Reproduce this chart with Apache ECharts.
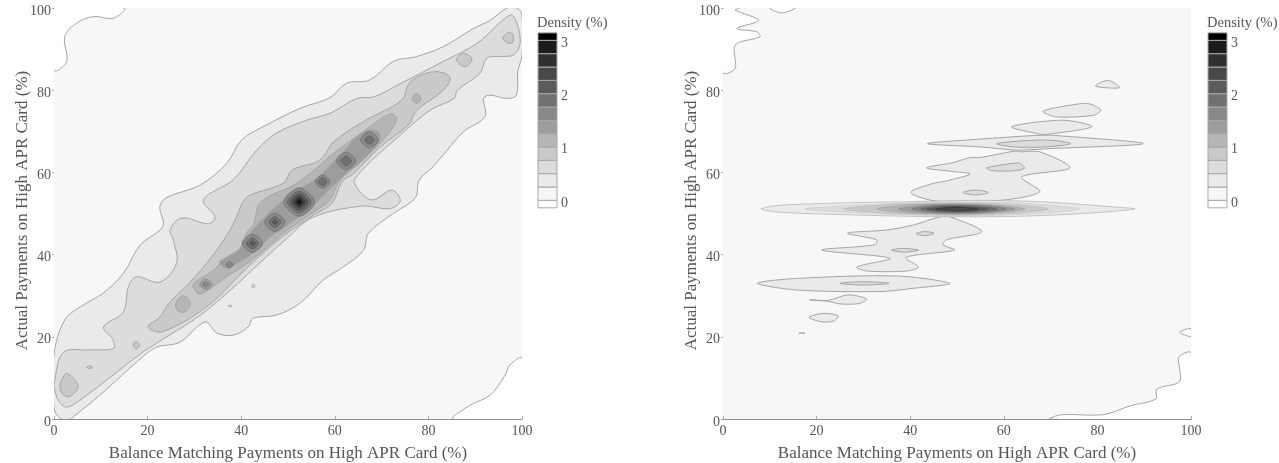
<!DOCTYPE html>
<html><head><meta charset="utf-8">
<style>html,body{margin:0;padding:0;background:#fff}#c{width:1279px;height:463px}</style>
<script src="https://cdn.jsdelivr.net/npm/echarts@6/dist/echarts.min.js"></script>
</head><body><div id="c"></div>
<script>
// ---------- labels & scales ----------
const xTitle = 'Balance Matching Payments on High APR Card (%)';
const yTitle = 'Actual Payments on High APR Card (%)';
const barTitle = 'Density (%)';
const bandEdges = [-0.09,0.05,0.30,0.55,0.80,1.05,1.30,1.55,1.80,2.05,2.30,2.55,2.80,3.05,3.19];
const bandColors = ['#ffffff','#f6f6f6','#eaeaea','#dcdcdc','#c9c9c9','#b5b5b5','#9d9d9d','#888888','#717171','#5b5b5b','#484848','#303030','#1c1c1c','#000000'];

// ---------- left panel: contour outlines read in data units ----------
const L_cornerTL = [[0,100],[0,84.9],[2.7,86.9],[2.3,93],[4.8,96.3],[8.4,97.9],[12.7,97.5],[15,100]];
const L_cornerBR = [[85.3,0],[89,3.4],[93.2,5.8],[96.4,10.7],[97.4,13.1],[100,14.8],[100,0]];
const L_A = [[0,15.6],[2.3,24.1],[6.2,27.7],[10.5,30.6],[14.8,35.4],[18.4,42.3],[22.7,46],[23.4,47.6],[22.6,51.7],[24.1,53.9],[31.2,56.9],[36.9,62.2],[40.1,67.9],[45.5,71.6],[52.6,75.6],[59,78.2],[62.5,81.7],[67.5,82.5],[72.5,87],[77.5,88.2],[83.2,90.6],[89.6,95],[93.2,97],[96.8,100],[98.9,100],[100,98.3],[100,88.6],[99.1,84.5],[98.8,78.8],[96.7,78],[93.2,78.8],[91.8,78],[92.1,73.6],[87.5,69.9],[84,65.4],[81,61.4],[78,58.1],[77.2,53.8],[72.5,50],[67.2,45.2],[66.1,41],[61.8,37],[57.5,33.8],[52.6,28.2],[47.6,25.3],[42.5,24.5],[41.5,22.4],[38.3,20.4],[34.8,20.9],[32.3,23.6],[26.9,18.7],[22,17.5],[19.1,15.3],[9.8,5.8],[4.1,0.5],[3.7,0],[1.5,0],[0,2.7]];
const L_B = [[0,8.7],[2,16.2],[7.7,16.8],[12.7,17.2],[12.5,19.5],[10.6,22.4],[14.8,26],[15.9,32.2],[17.6,34.6],[22.6,33.3],[26.2,37.9],[25.5,43.5],[24.8,46],[27.3,48.9],[33,47.5],[34.4,49.2],[31.9,53.3],[38.3,58.2],[43.3,65.4],[47.6,69.6],[54,72.7],[59,74.4],[64.7,78],[68.4,78.4],[74,81.6],[83.2,87],[90.4,91.4],[97.5,98.3],[98.9,96.3],[99.6,91.4],[98.2,88.6],[95.4,88.2],[92.5,87.8],[91,84.1],[86.2,80],[85.5,78],[80.5,75.2],[74.8,69.9],[64.3,58.4],[65.4,55.3],[68.1,53.3],[72.2,55.7],[74,53.1],[71.8,51.2],[65.8,51.8],[55.4,49.1],[49.8,44],[32.7,26.5],[22,18.5],[18.4,15.8],[6.2,5.1],[2.7,2.9],[0.9,4.6],[0,7.9]];
const L_C = [[20.1,22.4],[22.6,24.8],[24.8,28.5],[29.1,33.3],[34,39.9],[37.6,46],[39.3,50],[40.4,52.9],[42,54.5],[49,57.4],[50.9,60.6],[56.8,63],[59.7,67.4],[66,72.3],[74.3,77.6],[76.1,82],[81.1,84.5],[84.6,83.2],[83.2,80],[77.5,75.1],[75.7,71.5],[69.7,66.2],[64,59.7],[61.5,57.7],[59.4,52.5],[55.4,49.6],[48.9,44.4],[41.9,37.5],[32.7,27.4],[23.1,21.2]];
const L_D = [[29.7,32.5],[31.4,34.3],[33,35.3],[34.8,37],[36.2,38.9],[39.7,41.5],[41.2,45.4],[42.6,47.2],[43.7,52],[45.8,54.1],[51.2,56.9],[56.9,61.8],[59.7,64.6],[66.1,69.9],[71.8,74.2],[73.2,73.1],[71.5,69.5],[66.1,63],[61.1,58.1],[59,53.3],[56.1,50.8],[49,45.2],[41.9,38.3],[37.6,35.2],[31.2,30.4]];
const L_E = [[35.4,38.2],[37,39.3],[39.9,41.5],[41.9,45.2],[45.5,49.6],[49,53.3],[51.9,55.7],[56.1,58.5],[61.1,64.2],[66.1,69.9],[69.3,69.9],[69.3,67],[62.6,59.8],[59,56.1],[55.4,52],[49,46.4],[46.2,44.3],[41.9,39.8],[39.2,38],[37,36.6]];
const L_blob3 = [[1.3,8.3],[2.7,11.1],[5.2,7.9],[3.1,5.4],[1.7,6.3]];
const L_blob17 = [[16.9,18],[17.5,18.8],[18.3,18],[17.6,17]];
const L_blob27 = [[26,28],[27.5,30],[29,28.8],[29,27.4],[27.8,26],[26.5,26.3]];
const L_blob77 = [[76.5,77.9],[77.5,79.2],[78.4,77.9],[77.5,76.8]];
const L_blob87 = [[86,87.4],[87.4,89],[89.3,87.6],[87.8,85.7]];
const L_blob97 = [[95.9,92.8],[97.3,94.1],[98.1,93.4],[98,91.6],[96.8,91.6]];
const L_dot7 = [[7,12.6],[7.5,12.9],[8.2,12.6],[7.5,12.3]];
const L_dot37 = [[37.2,27.5],[37.6,27.7],[38,27.5],[37.6,27.3]];
const L_dot42 = [[42.3,32.3],[42.6,32.8],[42.9,32.3],[42.6,31.9]];
// ridge peaks, outermost ring first
const L_p32a = [[31.5,33.5],[33.2,33.6],[33.3,32],[31.7,31.9]];
const L_p32b = [[32,33.1],[32.8,33.1],[32.8,32.4],[32,32.4]];
const L_p37a = [[37,38],[38,38],[38,37.1],[37,37.1]];
const L_p42a = [[41,44.1],[43.8,44.1],[43.8,41.4],[41,41.4]];
const L_p42b = [[41.6,43.5],[43.2,43.5],[43.2,41.9],[41.6,41.9]];
const L_p42c = [[42.1,43],[42.8,43],[42.8,42.4],[42.1,42.4]];
const L_p47a = [[45.8,49.2],[48.6,49.2],[48.6,46.5],[45.8,46.5]];
const L_p47b = [[46.4,48.7],[48,48.7],[48,47.1],[46.4,47.1]];
const L_p47c = [[46.9,48.2],[47.5,48.2],[47.5,47.6],[46.9,47.6]];
const L_p52a = [[50.3,54.9],[54.5,54.9],[54.5,50.7],[50.3,50.7]];
const L_p52b = [[50.8,54.4],[54,54.4],[54,51.2],[50.8,51.2]];
const L_p52c = [[51.2,54],[53.6,54],[53.6,51.6],[51.2,51.6]];
const L_p52d = [[51.6,53.6],[53.2,53.6],[53.2,52],[51.6,52]];
const L_p52e = [[51.9,53.3],[52.9,53.3],[52.9,52.3],[51.9,52.3]];
const L_p52f = [[52.2,53],[52.6,53],[52.6,52.6],[52.2,52.6]];
const L_p57a = [[56.4,58.7],[58.4,58.7],[58.4,56.7],[56.4,56.7]];
const L_p57b = [[56.8,58.3],[58,58.3],[58,57.1],[56.8,57.1]];
const L_p62a = [[61.1,64.1],[63.7,64.1],[63.7,61.5],[61.1,61.5]];
const L_p62b = [[61.7,63.5],[63.1,63.5],[63.1,62.1],[61.7,62.1]];
const L_p67a = [[66.2,69.1],[68.6,69.1],[68.6,66.7],[66.2,66.7]];
const L_p67b = [[66.8,68.5],[68,68.5],[68,67.3],[66.8,67.3]];

const leftBands = [
  [0,L_cornerTL],[0,L_cornerBR],[2,L_A],[3,L_B],[4,L_C],[5,L_D],[6,L_E],
  [4,L_blob3],[4,L_blob17],[5,L_blob27],[5,L_blob77],[4,L_blob87],[4,L_blob97],
  [4,L_dot7],[3,L_dot37],[3,L_dot42]
];
const leftPeaks = [
  [6,L_p32a],[7,L_p32b],[7,L_p37a],
  [7,L_p42a],[8,L_p42b],[9,L_p42c],
  [7,L_p47a],[8,L_p47b],[9,L_p47c],
  [7,L_p52a],[8,L_p52b],[9,L_p52c],[10,L_p52d],[11,L_p52e],[12,L_p52f],
  [7,L_p57a],[8,L_p57b],[7,L_p62a],[8,L_p62b],[7,L_p67a],[8,L_p67b]
];

// ---------- right panel ----------
const R_cornerTL = [[0,100],[0,84.2],[2.6,85.3],[2.6,91],[7.9,93],[7.2,94.2],[2.9,95],[7.6,97],[2.6,99.5],[3.5,100]];
const R_cornerT = [[10,100],[12.5,98.8],[15.4,100]];
const R_cornerBR = [[69.8,0],[72.3,1.05],[81.3,1.05],[87,3.2],[92.5,4.9],[92.7,7.3],[97.6,9.2],[97.4,15],[100,16.1],[100,0]];
const R_edge21 = [[100,22],[97.6,21.1],[100,20.1]];
const R_dash17 = [[16.2,20.9],[17,21],[17.5,20.9],[17,20.8]];
const R_b25 = [[18.5,24.9],[21.4,25.7],[24.6,25.1],[23.8,23.9],[21.4,23.6],[18.5,24.5]];
const R_b29 = [[18.5,29],[22.6,28.9],[26.7,30.2],[30.7,29.2],[29.1,28.1],[25,28],[22.6,28.6]];
const R_b33 = [[7.3,33],[15.7,34.2],[37.1,34.8],[48.5,33],[40.7,31.8],[33.5,31],[15.7,31.4]];
const R_lower = [[46.4,49.2],[40.7,47.2],[35,46],[26.6,45.2],[32.8,43.6],[32.5,42.4],[21.1,41.1],[35.7,39.1],[28.6,37],[30.7,36],[39.3,36],[41.8,37],[39,39.3],[49.5,41.1],[47,42.4],[47.8,43.6],[55.3,45.6],[48.5,49.2]];
const R_mid = [[40.1,55.1],[44.5,57.2],[47.6,57.9],[52.8,59.6],[48.5,60.3],[43.5,61.1],[49.2,62.4],[52.8,63.6],[54.9,63.6],[62.4,65.2],[63.6,65],[67.7,65],[74.1,61.1],[63.8,58.9],[67.7,55.3],[59.2,53.2],[45.7,53]];
const R_top67 = [[43.7,67],[54.9,68.1],[67,69],[70.8,69],[89.8,67],[70.2,65.8],[63.6,65.4],[62.4,65.4],[54.9,66.2]];
const R_top71 = [[61.7,71.1],[72.7,72.7],[78.8,71.1],[68.8,69.2],[67.2,69.4]];
const R_top75 = [[68.4,74.9],[77,76.8],[79.1,76.4],[80.7,75.1],[79.1,73.9],[71.3,73.5]];
const R_top81 = [[79.6,81],[82.3,82.4],[84.7,80.6]];
const R_in67 = [[58.5,67],[65.6,67.8],[70.6,67.8],[74.3,67],[69.1,66.2],[62,66.2]];
const R_in61 = [[56.3,61.1],[62,62.2],[63.4,62.2],[64.4,61],[62,60.4],[57.7,60.4]];
const R_in55 = [[51.3,55.1],[54,55.7],[56.7,55.1],[54,54.5]];
const R_in45 = [[41.3,45.1],[43,45.6],[45.1,45.2],[43,44.6]];
const R_in41 = [[36,41.1],[38.5,41.5],[41.8,41.1],[38.5,40.6]];
const R_in33 = [[25,33],[30,33.4],[35.5,33],[30,32.6]];
// long narrow ridge at about 51 %, outermost contour first
const R_r0 = [[8.1,51.1],[12.2,52],[26.4,52.6],[40.7,52.9],[54.9,53.2],[69.1,52.8],[83.4,51.6],[88,51.1],[79.8,50.2],[65.6,49.4],[54.9,49.2],[40.7,49.3],[26.4,49.7],[12.2,50.3]];
const R_r1 = [[17.5,51.1],[30,52.1],[42,52.6],[50,52.8],[62,52.6],[70,52],[76.3,51.1],[70,50.2],[62,49.7],[50,49.4],[42,49.6],[30,50.1]];
const R_r2 = [[25.8,51.1],[36,52.2],[44,52.5],[50,52.6],[58,52.4],[64,52],[69.5,51.1],[64,50.2],[58,49.8],[50,49.6],[44,49.7],[36,50]];
const R_r3 = [[32.9,51.1],[40,52.1],[46,52.3],[50,52.4],[56,52.2],[60,51.9],[64.5,51.1],[60,50.3],[56,50],[50,49.8],[46,49.9],[40,50.1]];
const R_r4 = [[37.5,51.1],[43,52],[50,52.2],[56,52],[62.4,51.1],[56,50.2],[50,50],[43,50.2]];
const R_r5 = [[40.4,51.1],[45,51.9],[50,52],[55,51.9],[60.6,51.1],[55,50.3],[50,50.2],[45,50.3]];
const R_r6 = [[42.2,51.1],[46,51.7],[50,51.85],[54,51.7],[58.5,51.1],[54,50.5],[50,50.35],[46,50.5]];
const R_r7 = [[43.6,51.1],[47,51.55],[50,51.7],[53,51.55],[56.7,51.1],[53,50.65],[50,50.5],[47,50.65]];
const R_r8 = [[45.5,51.1],[50,51.5],[54.5,51.1],[50,50.7]];

const rightBands = [
  [0,R_cornerTL],[0,R_cornerT],[0,R_cornerBR],[0,R_edge21],[2,R_dash17],
  [2,R_b25],[2,R_b29],[2,R_b33],[2,R_lower],[2,R_mid],[2,R_top67],[2,R_top71],[2,R_top75],[2,R_top81],
  [3,R_in67],[3,R_in61],[3,R_in55],[3,R_in45],[3,R_in41],[3,R_in33]
];
const rightRidge = [[2,R_r0],[3,R_r1],[4,R_r2],[5,R_r3],[6,R_r4],[7,R_r5],[8,R_r6],[9,R_r7],[10,R_r8]];

// ---------- chart ----------
const ink = '#555555', line = '#a4a4a4', serif = '"Liberation Serif", serif';
const chart = echarts.init(document.getElementById('c'), null, {renderer:'canvas'});

function contourSeries(shapes, idx, smooth, strokeOf, width){
  return {
    type:'custom', xAxisIndex:idx, yAxisIndex:idx, clip:true, silent:true, animation:false,
    data: shapes.map(function(s,i){return [i];}),
    renderItem:function(params, api){
      const s = shapes[api.value(0)];
      return {type:'polygon', shape:{points:s[1].map(function(p){return api.coord(p);}), smooth:smooth},
        style:{fill:bandColors[s[0]], stroke:strokeOf(s[0]), lineWidth:width}};
    }
  };
}
function plainLine(){return line;}
function stepDarker(level){return level<3 ? line : bandColors[Math.min(level+1,13)];}
function barSeries(idx){
  return {
    type:'custom', xAxisIndex:idx, yAxisIndex:idx, clip:false, silent:true, animation:false,
    data: bandColors.map(function(c,i){return [i];}),
    renderItem:function(params, api){
      const i = api.value(0);
      const a = api.coord([0,bandEdges[i+1]]), b = api.coord([1,bandEdges[i]]);
      return {type:'rect', shape:{x:a[0],y:a[1],width:b[0]-a[0],height:b[1]-a[1]},
        style:{fill:bandColors[i], stroke:'#a8a8a8', lineWidth:1}};
    }
  };
}
function plotX(i){return {type:'value',gridIndex:i,min:0,max:100,interval:20,
  name:xTitle,nameLocation:'middle',nameGap:26,nameTextStyle:{color:ink,fontFamily:serif,fontSize:17},
  axisLine:{show:true,lineStyle:{color:'#8c8c8c',width:1}},axisTick:{show:true,inside:true,length:3,lineStyle:{color:'#aaa'}},
  splitLine:{show:false},axisLabel:{color:ink,fontFamily:serif,fontSize:14,margin:5,showMinLabel:true,showMaxLabel:true}};}
function plotY(i){return {type:'value',gridIndex:i,min:0,max:100,interval:20,
  name:yTitle,nameLocation:'middle',nameGap:23,nameMoveOverlap:false,nameTextStyle:{color:ink,fontFamily:serif,fontSize:17,padding:[0,0,0,6]},
  axisLine:{show:false},axisTick:{show:true,length:2,lineStyle:{color:'#aaa'}},
  splitLine:{show:false},axisLabel:{color:ink,fontFamily:serif,fontSize:14,margin:3,verticalAlign:'top',lineHeight:6,showMinLabel:true,showMaxLabel:true}};}
function barX(i){return {type:'value',gridIndex:i,min:0,max:1,show:false};}
function barY(i){return {type:'value',gridIndex:i,min:0,max:3,interval:1,position:'right',
  axisLine:{show:false},axisTick:{show:true,length:3,lineStyle:{color:'#aaa'}},splitLine:{show:false},
  axisLabel:{color:ink,fontFamily:serif,fontSize:14,margin:4}};}

chart.setOption({
  animation:false, backgroundColor:'#ffffff',
  title:[
    {text:barTitle,left:537,top:16,padding:0,textStyle:{color:ink,fontFamily:serif,fontSize:14.5,fontWeight:'normal'}},
    {text:barTitle,left:1207,top:16,padding:0,textStyle:{color:ink,fontFamily:serif,fontSize:14.5,fontWeight:'normal'}}
  ],
  grid:[
    {left:54,top:8,width:468,height:411,show:true,backgroundColor:'#f7f7f7',borderWidth:0,outerBoundsMode:'none'},
    {left:723,top:8,width:468,height:411,show:true,backgroundColor:'#f7f7f7',borderWidth:0,outerBoundsMode:'none'},
    {left:538,top:43,width:19,height:160,outerBoundsMode:'none'},
    {left:1208,top:43,width:19,height:160,outerBoundsMode:'none'}
  ],
  xAxis:[plotX(0),plotX(1),barX(2),barX(3)],
  yAxis:[plotY(0),plotY(1),barY(2),barY(3)],
  series:[
    contourSeries(leftBands,0,0.35,plainLine,1),
    contourSeries(leftPeaks,0,0.8,stepDarker,0.8),
    contourSeries(rightBands,1,0.3,plainLine,1),
    contourSeries(rightRidge,1,0.3,stepDarker,0.6),
    barSeries(2),barSeries(3)
  ]
});
</script></body></html>
